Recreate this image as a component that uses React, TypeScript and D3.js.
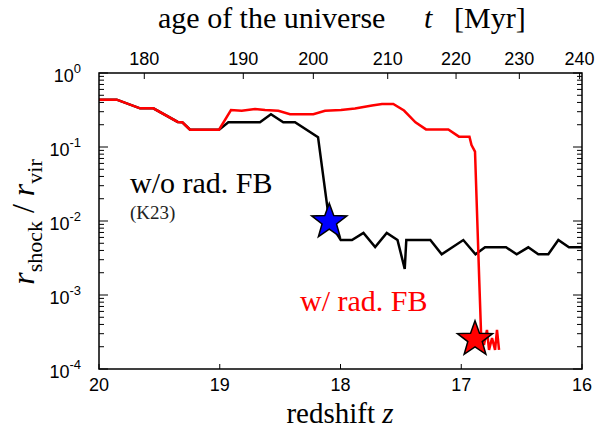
import React from 'react';
import * as d3 from 'd3';

// redshift z and r_shock / r_vir, with radiative feedback (red)
const redshiftRad = [20.0, 19.853, 19.66, 19.55, 19.348, 19.31, 19.246, 19.006, 18.907, 18.818, 18.708, 18.625, 18.515, 18.418, 18.225, 18.128, 17.996, 17.88, 17.739, 17.656, 17.563, 17.474, 17.379, 17.292, 17.107, 17.019, 16.932, 16.915, 16.886, 16.851, 16.836, 16.812, 16.787, 16.77, 16.745, 16.72, 16.704, 16.687];
const ratioRad = [0.436, 0.436, 0.333, 0.333, 0.218, 0.216, 0.171, 0.171, 0.316, 0.309, 0.326, 0.316, 0.309, 0.277, 0.277, 0.309, 0.316, 0.331, 0.364, 0.381, 0.381, 0.311, 0.216, 0.173, 0.173, 0.138, 0.138, 0.106, 0.0864, 0.0016, 3.06e-4, 2.11e-4, 3.37e-4, 1.81e-4, 2.62e-4, 1.81e-4, 3.37e-4, 1.81e-4];

// without radiative feedback (black, K23)
const redshiftNoRad = [20.0, 19.853, 19.66, 19.55, 19.348, 19.31, 19.246, 19.006, 18.929, 18.667, 18.576, 18.474, 18.377, 18.186, 18.093, 17.998, 17.905, 17.81, 17.713, 17.617, 17.528, 17.468, 17.455, 17.256, 17.162, 16.983, 16.882, 16.803, 16.629, 16.541, 16.445, 16.362, 16.279, 16.196, 16.108, 16.0];
const ratioNoRad = [0.436, 0.436, 0.333, 0.333, 0.218, 0.216, 0.171, 0.171, 0.216, 0.216, 0.277, 0.216, 0.216, 0.136, 0.0098, 0.00553, 0.00553, 0.00689, 0.00445, 0.00689, 0.00553, 0.00225, 0.00553, 0.00553, 0.00355, 0.00553, 0.00355, 0.00441, 0.00441, 0.00355, 0.00441, 0.00355, 0.00355, 0.00553, 0.00441, 0.00441];

// star markers
const starRedshift = [18.093, 16.886];
const starRatio = [0.0098, 2.52e-4];
const starColor = ['#0000ff', '#ff0000'];

// axes
const zTicks = [20, 19, 18, 17, 16];
const topTickLabels = [180, 190, 200, 210, 220, 230, 240];
const topTickRedshift = [19.625, 18.805, 18.225, 17.609, 17.043, 16.519, 16.02];
const yTickExponents = [0, -1, -2, -3, -4];

const SANS = '"Liberation Sans", Arial, Helvetica, sans-serif';
const SERIF = '"Liberation Serif", "Times New Roman", serif';

function starPath(cx: number, cy: number, R: number, r: number) {
  const pts: string[] = [];
  for (let i = 0; i < 10; i++) {
    const a = (-90 + i * 36) * Math.PI / 180;
    const rad = i % 2 === 0 ? R : r;
    pts.push(`${cx + rad * Math.cos(a)},${cy + rad * Math.sin(a)}`);
  }
  return 'M' + pts.join('L') + 'Z';
}

export default function App() {
  const W = 596, H = 441;
  const L = 99, R = 582, T = 73, B = 369;
  const x = d3.scaleLinear().domain([20, 16]).range([L, R]);
  const y = d3.scaleLog().domain([1e-4, 1]).range([B, T]);
  const line = d3.line<[number, number]>().x(d => x(d[0])).y(d => y(d[1]));
  const redPts = redshiftRad.map((z, i) => [z, ratioRad[i]] as [number, number]);
  const blackPts = redshiftNoRad.map((z, i) => [z, ratioNoRad[i]] as [number, number]);

  const minor: number[] = [];
  yTickExponents.forEach(e => {
    if (e === 0) return;
    for (let k = 2; k <= 9; k++) minor.push(k * Math.pow(10, e));
  });

  return (
    <svg width={W} height={H} style={{ position: 'absolute', left: 0, top: 0, background: '#fff' }}>
      <rect x={0} y={0} width={W} height={H} fill="#fff" />
      {/* title top */}
      <text y={28} fontFamily={SERIF} fontSize={30} fill="#000">
        <tspan x={158}>age of the universe</tspan>
        <tspan x={424} fontStyle="italic">t</tspan>
        <tspan x={454}>[Myr]</tspan>
      </text>
      {/* top tick labels */}
      {topTickLabels.map((t, i) => (
        <g key={'tt' + t}>
          <line x1={x(topTickRedshift[i])} x2={x(topTickRedshift[i])} y1={T} y2={T + 6} stroke="#000" strokeWidth={1} />
          <text x={x(topTickRedshift[i])} y={65} textAnchor="middle" fontFamily={SANS} fontSize={18}>{t}</text>
        </g>
      ))}
      {/* bottom ticks */}
      {zTicks.map(z => (
        <g key={'bz' + z}>
          <line x1={x(z)} x2={x(z)} y1={B} y2={B - 5} stroke="#000" strokeWidth={1} />
          <text x={x(z)} y={391} textAnchor="middle" fontFamily={SANS} fontSize={18}>{z}</text>
        </g>
      ))}
      {/* y ticks */}
      {yTickExponents.map(e => (
        <g key={'ye' + e}>
          <line x1={L} x2={L + 9} y1={y(Math.pow(10, e))} y2={y(Math.pow(10, e))} stroke="#000" strokeWidth={1} />
          <line x1={R} x2={R - 9} y1={y(Math.pow(10, e))} y2={y(Math.pow(10, e))} stroke="#000" strokeWidth={1} />
          <text x={81} y={y(Math.pow(10, e)) + 9} textAnchor="end" fontFamily={SANS} fontSize={18}>
            <tspan>10</tspan>
            <tspan dy={-9} fontSize={13}>{e === 0 ? '0' : '-' + Math.abs(e)}</tspan>
          </text>
        </g>
      ))}
      {minor.map((v, i) => (
        <g key={'ym' + i}>
          <line x1={L} x2={L + 5} y1={y(v)} y2={y(v)} stroke="#000" strokeWidth={1} />
          <line x1={R} x2={R - 5} y1={y(v)} y2={y(v)} stroke="#000" strokeWidth={1} />
        </g>
      ))}
      {/* lines */}
      <path d={line(blackPts) || ''} fill="none" stroke="#000" strokeWidth={2.5} strokeLinejoin="miter" />
      <path d={line(redPts) || ''} fill="none" stroke="#ff0000" strokeWidth={2.5} strokeLinejoin="miter" />
      {/* stars */}
      {starRedshift.map((z, i) => (
        <path key={'st' + i} d={starPath(x(z), y(starRatio[i]), 18.5, 7.6)} fill={starColor[i]} stroke="#000" strokeWidth={1.5} strokeLinejoin="miter" />
      ))}
      {/* frame */}
      <rect x={L} y={T} width={R - L} height={B - T} fill="none" stroke="#000" strokeWidth={1.5} />
      {/* annotations */}
      <text x={130} y={193} fontFamily={SERIF} fontSize={30} fill="#000">w/o rad. FB</text>
      <text x={130} y={219} fontFamily={SERIF} fontSize={19} fill="#222">(K23)</text>
      <text x={300} y={311} fontFamily={SERIF} fontSize={30} fill="#ff0000">w/ rad. FB</text>
      {/* x label */}
      <text x={340} y={423} textAnchor="middle" fontFamily={SERIF} fontSize={29}>
        <tspan>redshift </tspan>
        <tspan fontStyle="italic">z</tspan>
      </text>
      {/* y label */}
      <text transform="translate(34,222) rotate(-90)" textAnchor="middle" fontFamily={SERIF} fontSize={32}>
        <tspan fontStyle="italic">r</tspan>
        <tspan fontSize={22} dy={8}>shock</tspan>
        <tspan dy={-8}> / </tspan>
        <tspan fontStyle="italic">r</tspan>
        <tspan fontSize={22} dy={8}>vir</tspan>
      </text>
    </svg>
  );
}
